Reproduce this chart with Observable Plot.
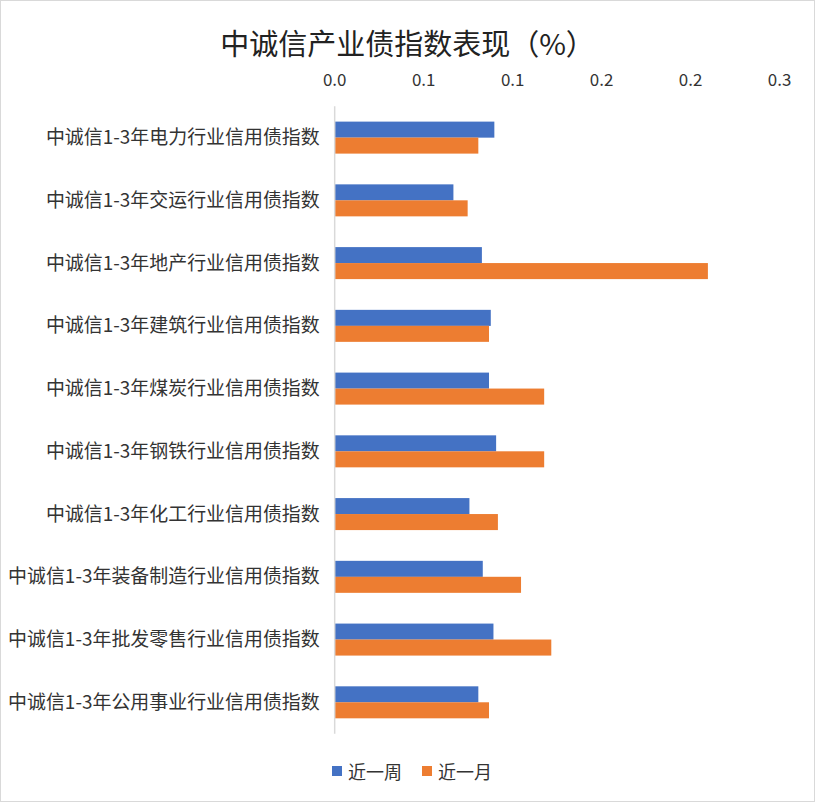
<!DOCTYPE html>
<html><head><meta charset="utf-8">
<script src="https://cdn.jsdelivr.net/npm/d3@7"></script>
<script src="https://cdn.jsdelivr.net/npm/@observablehq/plot@0.6"></script>
<style>
body{margin:0;background:#fff;font-family:"Noto Sans CJK SC","Noto Sans",sans-serif;}
#box{position:relative;width:813px;height:800px;border:1px solid #d9d9d9;background:#fff;overflow:hidden;}
#title{position:absolute;left:0;width:813px;top:21px;text-align:center;font-size:29px;line-height:40px;color:#222;}
#chart{position:absolute;left:0;top:0;}
#legend{position:absolute;top:756px;left:0;width:813px;font-size:18px;color:#333;}
.sw{position:absolute;width:10px;height:10px;top:9px;}
.lt{position:absolute;top:0;line-height:28px;}
</style></head>
<body>
<div id="box">
<div id="chart"></div>
<div id="title">中诚信产业债指数表现（%）</div>
<div id="legend"></div>
</div>
<script>
const categories = [
  "中诚信1-3年电力行业信用债指数",
  "中诚信1-3年交运行业信用债指数",
  "中诚信1-3年地产行业信用债指数",
  "中诚信1-3年建筑行业信用债指数",
  "中诚信1-3年煤炭行业信用债指数",
  "中诚信1-3年钢铁行业信用债指数",
  "中诚信1-3年化工行业信用债指数",
  "中诚信1-3年装备制造行业信用债指数",
  "中诚信1-3年批发零售行业信用债指数",
  "中诚信1-3年公用事业行业信用债指数"
];
const seriesNames = ["近一周", "近一月"];
const weekValues = [0.090, 0.067, 0.083, 0.088, 0.087, 0.091, 0.076, 0.0835, 0.0895, 0.081];
const monthValues = [0.081, 0.075, 0.210, 0.087, 0.118, 0.118, 0.092, 0.105, 0.122, 0.087];
const tickValues = [0, 0.05, 0.10, 0.15, 0.20, 0.25];
const tickLabels = ["0.0", "0.1", "0.1", "0.2", "0.2", "0.3"];
const colors = ["#4472C4", "#ED7D31"];

const week = categories.map((c, i) => ({category: c, value: weekValues[i]}));
const month = categories.map((c, i) => ({category: c, value: monthValues[i]}));

const plot = Plot.plot({
  width: 815,
  height: 750,
  marginTop: 105.5,
  marginBottom: 15.5,
  marginLeft: 334,
  marginRight: 35,
  style: {fontFamily: '"Noto Sans CJK SC","Noto Sans",sans-serif', fontSize: "16px", color: "#333", background: "transparent"},
  x: {domain: [0, 0.25]},
  y: {domain: categories, paddingInner: 0.49, paddingOuter: 0.245, round: false},
  marks: [
    Plot.barX(week, {x: "value", y: "category", fill: colors[0], insetBottom: 16}),
    Plot.barX(month, {x: "value", y: "category", fill: colors[1], insetTop: 16}),
    Plot.ruleX([0], {stroke: "#d9d9d9", strokeWidth: 1.5}),
    Plot.axisX({anchor: "top", ticks: tickValues, tickFormat: (d, i) => tickLabels[i], tickSize: 0, tickPadding: 21, fontSize: 17, label: null}),
    Plot.axisY({tickSize: 0, tickPadding: 15, fontSize: 19, label: null})
  ]
});
document.getElementById("chart").appendChild(plot);

const lg = document.getElementById("legend");
const lpos = [[331, 347], [421, 437]];
seriesNames.forEach((s, i) => {
  const sw = document.createElement("div");
  sw.className = "sw"; sw.style.left = lpos[i][0] + "px"; sw.style.background = colors[i];
  const t = document.createElement("div");
  t.className = "lt"; t.style.left = lpos[i][1] + "px"; t.textContent = s;
  lg.appendChild(sw); lg.appendChild(t);
});
</script>
</body></html>
